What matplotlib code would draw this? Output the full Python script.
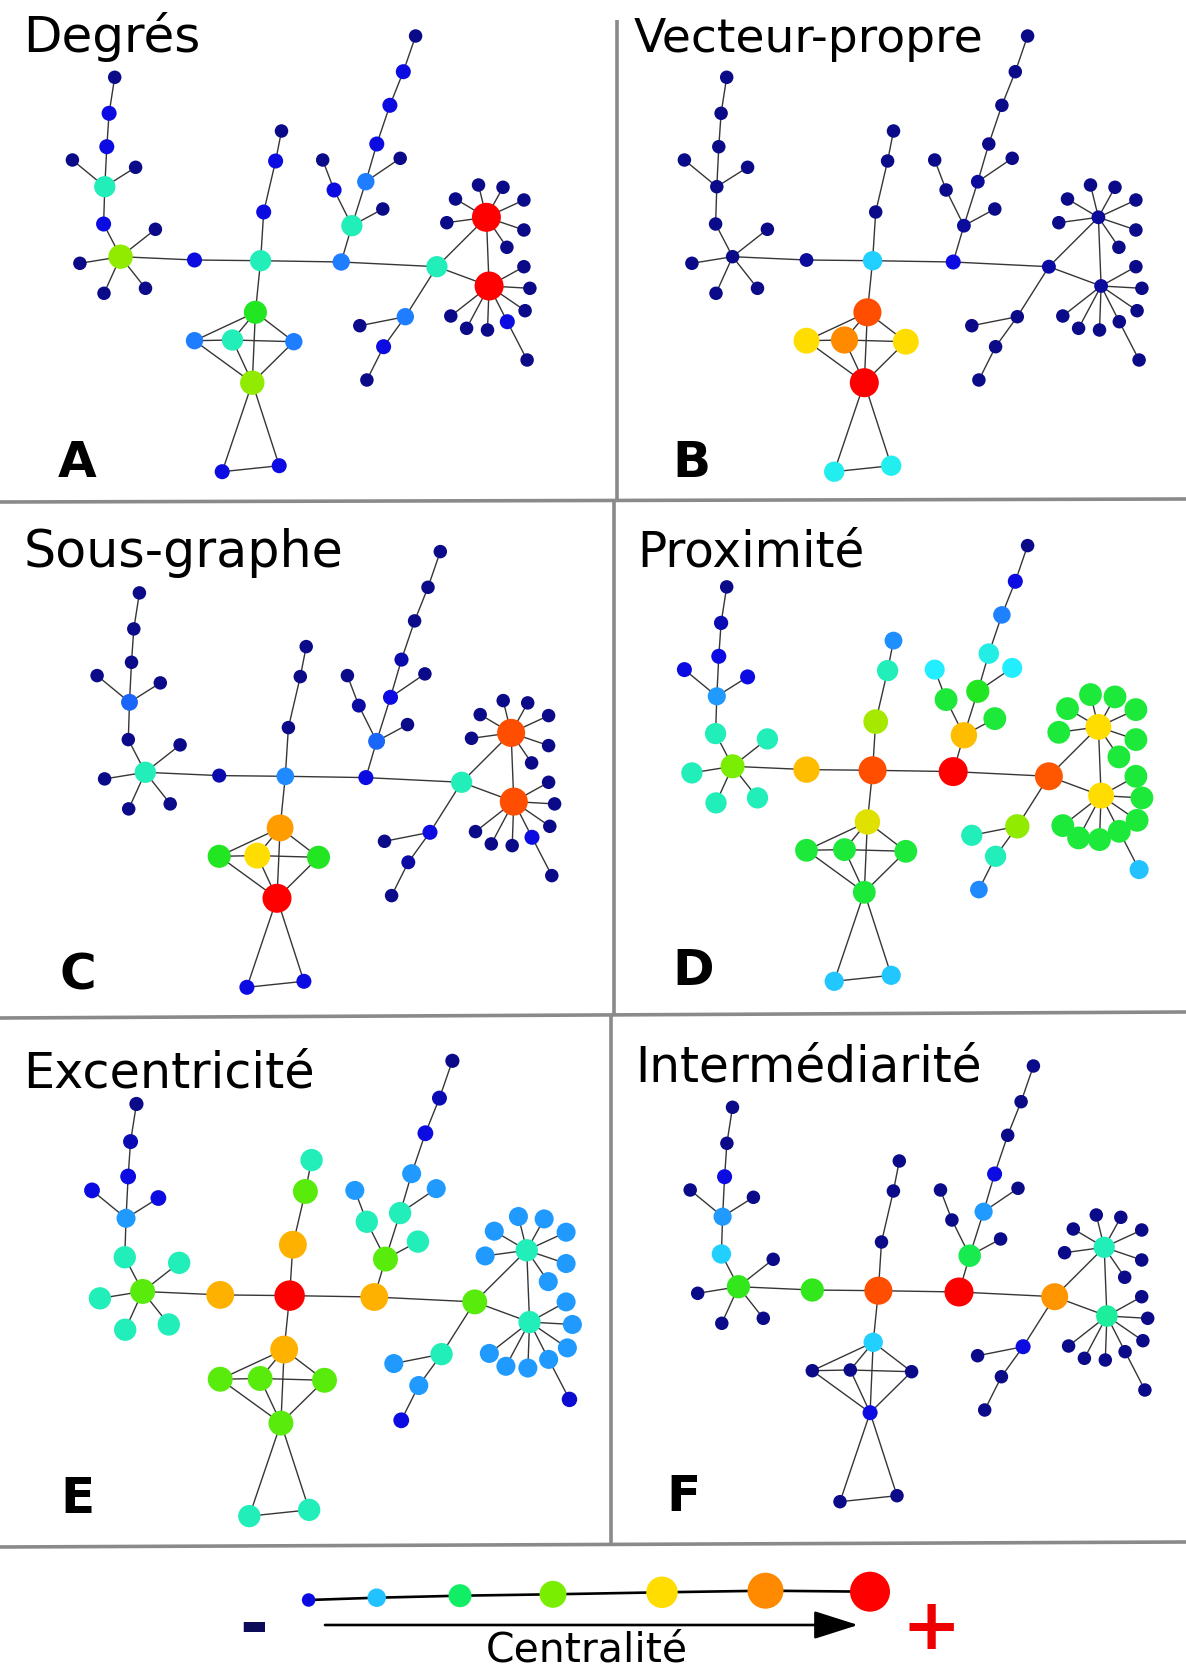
import numpy as np
import matplotlib
matplotlib.use("Agg")
import matplotlib.pyplot as plt
from matplotlib.colors import LinearSegmentedColormap
from matplotlib.collections import LineCollection
from matplotlib.patches import ArrowStyle

# ---------------- data ----------------
# graph layout (panel A frame, pixels)
node_x = [114.7, 109.1, 106.8, 104.8, 72.4, 135.6, 103.6, 120.6, 155.4, 79.9, 104.0, 145.5,
          194.5, 260.6, 263.7, 275.6, 281.5, 255.4, 194.5, 232.5, 293.8, 252.3, 222.2, 279.2,
          341.2, 351.9, 382.8, 334.1, 322.7, 365.8, 400.2, 376.8, 389.9, 403.3, 415.6,
          436.9, 405.3, 359.8, 383.6, 366.9,
          486.4, 455.5, 478.5, 503.0, 523.9, 446.8, 523.9, 506.9,
          489.1, 523.9, 529.9, 525.1, 507.3, 487.5, 466.6, 450.8, 527.1]
node_y = [77.3, 113.3, 146.7, 186.7, 160.0, 167.3, 224.0, 256.7, 229.3, 263.3, 293.3, 288.3,
          260.0, 260.7, 212.0, 161.0, 131.0, 312.3, 340.7, 340.0, 341.7, 382.7, 471.7, 465.7,
          262.0, 225.7, 209.0, 190.0, 160.0, 181.7, 158.3, 144.0, 105.3, 71.7, 36.0,
          266.7, 316.7, 325.7, 346.7, 380.0,
          217.3, 199.0, 185.0, 187.3, 200.0, 222.7, 230.0, 247.3,
          286.0, 266.7, 288.3, 310.7, 321.7, 330.0, 328.3, 316.0, 360.0]

edges = [(0, 1), (1, 2), (2, 3), (3, 4), (3, 5), (3, 6), (6, 7), (7, 8), (7, 9), (7, 10), (7, 11),
         (7, 12), (12, 13), (13, 14), (14, 15), (15, 16), (13, 17), (17, 18), (17, 19), (17, 20),
         (17, 21), (18, 19), (19, 20), (18, 21), (19, 21), (20, 21), (21, 22), (21, 23), (22, 23),
         (13, 24), (24, 25), (25, 26), (25, 27), (27, 28), (25, 29), (29, 30), (29, 31), (31, 32),
         (32, 33), (33, 34), (24, 35), (35, 36), (36, 37), (36, 38), (38, 39), (35, 40), (35, 48),
         (40, 48), (40, 41), (40, 42), (40, 43), (40, 44), (40, 45), (40, 46), (40, 47),
         (48, 49), (48, 50), (48, 51), (48, 52), (48, 53), (48, 54), (48, 55), (52, 56)]

titles = ["Degrés", "Vecteur-propre", "Sous-graphe", "Proximité", "Excentricité", "Intermédiarité"]
letters = ["A", "B", "C", "D", "E", "F"]

degree_vals = [0, .1, .1, .5, 0, 0, .1, .7, 0, 0, 0, 0,
               .1, .5, .1, .1, 0, .62, .25, .5, .25, .7, .1, .1,
               .25, .5, 0, .1, 0, .25, 0, .1, .1, .1, 0,
               .5, .25, 0, .1, 0,
               1, 0, 0, 0, 0, 0, 0, 0,
               1, 0, 0, 0, .1, 0, 0, 0, 0]
eigen_vals = [0, 0, 0, 0, 0, 0, 0, 0, 0, 0, 0, 0,
              .02, .38, 0, 0, 0, .94, .8, .88, .8, 1, .44, .44,
              .1, .02, 0, 0, 0, .02, 0, 0, 0, 0, 0,
              .03, 0, 0, 0, 0,
              .02, 0, 0, 0, 0, 0, 0, 0,
              .02, 0, 0, 0, 0, 0, 0, 0, 0]
subgraph_vals = [0, 0, 0, .22, 0, 0, 0, .5, 0, 0, 0, 0,
                 .04, .27, 0, 0, 0, .86, .62, .8, .62, 1, .1, .1,
                 .1, .22, 0, .03, 0, .1, 0, .04, 0, 0, 0,
                 .5, .1, 0, .03, 0,
                 .94, 0, 0, 0, 0, 0, 0, 0,
                 .94, 0, 0, 0, .1, 0, 0, 0, 0]
closeness_vals = [0, .05, .1, .3, .1, .1, .5, .68, .5, .5, .5, .5,
                  .83, .94, .72, .5, .28, .77, .6, .6, .6, .6, .37, .37,
                  1, .83, .6, .6, .42, .62, .42, .45, .26, .1, 0,
                  .93, .7, .5, .5, .27,
                  .8, .6, .6, .6, .6, .6, .6, .6,
                  .8, .6, .6, .6, .6, .6, .6, .6, .36]
eccentricity_vals = [0, .05, .1, .3, .1, .1, .5, .66, .5, .5, .5, .5,
                     .84, 1, .84, .66, .5, .84, .66, .66, .66, .66, .5, .5,
                     .84, .66, .5, .5, .3, .5, .3, .3, .1, .05, 0,
                     .66, .5, .3, .3, .1,
                     .5, .3, .3, .3, .3, .3, .3, .3,
                     .5, .3, .3, .3, .3, .3, .3, .3, .08]
betweenness_vals = [0, 0, .1, .3, 0, 0, .38, .63, 0, 0, 0, 0,
                    .63, .94, 0, 0, 0, .38, 0, 0, 0, .1, 0, 0,
                    1, .58, 0, 0, 0, .3, 0, .1, 0, 0, 0,
                    .87, .1, 0, 0, 0,
                    .5, 0, 0, 0, 0, 0, 0, 0,
                    .52, 0, 0, 0, 0, 0, 0, 0, 0]
panel_vals = [degree_vals, eigen_vals, subgraph_vals, closeness_vals, eccentricity_vals, betweenness_vals]

legend_levels = [0.1, 0.36, 0.56, 0.68, 0.8, 0.88, 1.0]

# ---------------- style / layout ----------------
cmap = LinearSegmentedColormap.from_list("centr", [
    (0.00, "#0b0b8a"), (0.10, "#0c0ce4"), (0.25, "#1e7dff"), (0.36, "#22c0ff"),
    (0.42, "#22eeff"), (0.50, "#22eebb"), (0.56, "#11ee66"), (0.62, "#22e622"),
    (0.68, "#77ee00"), (0.80, "#ffdd00"), (0.88, "#ff8c00"), (0.94, "#ff5000"),
    (1.00, "#ff0000")])

# panel transforms: (scale x, scale y, offset x, offset y)
panel_tf = [(1.0, 1.0, 0.0, 0.0), (1.0, 1.0, 612.0, 0.0),
            (1.0, 1.0, 24.7, 515.6), (1.0, 1.0, 612.0, 509.6),
            (1.05, 1.045, 16.0, 1023.2), (1.0, 1.0, 617.8, 1030.0)]
title_pos = [(23, 51.7, 36), (634, 51.7, 34), (23.5, 566.7, 36.5),
             (637, 566.7, 35), (23.5, 1087.5, 35.5), (635, 1081.6, 35)]
letter_pos = [(58, 476.7), (672, 476.7), (60, 990), (672, 985), (60, 1512.8), (666, 1511)]

W, H = 1186, 1671
fig = plt.figure(figsize=(W / 100, H / 100), dpi=100)
ax = fig.add_axes([0, 0, 1, 1])
ax.set_xlim(0, W)
ax.set_ylim(H, 0)
ax.axis("off")

PX = 0.72  # points per pixel

nx = np.array(node_x)
ny = np.array(node_y)
for k in range(6):
    sx, sy, ox, oy = panel_tf[k]
    X = nx * sx + ox
    Y = ny * sy + oy
    segs = [[(X[a], Y[a]), (X[b], Y[b])] for a, b in edges]
    ax.add_collection(LineCollection(segs, colors="#363636", linewidths=1.0, zorder=2))
    v = np.array(panel_vals[k], dtype=float)
    order = np.argsort(v, kind="stable")
    d = (13.5 + 15.5 * v) * sx
    ax.scatter(X[order], Y[order], s=(d[order] * PX) ** 2, c=v[order], cmap=cmap,
               vmin=0, vmax=1, linewidths=0, zorder=3)
    tx, ty, fs = title_pos[k]
    ax.text(tx, ty, titles[k], fontsize=fs, family="DejaVu Sans", ha="left", va="baseline",
            color="black", zorder=5)
    lx, ly = letter_pos[k]
    ax.text(lx, ly, letters[k], fontsize=36, family="DejaVu Sans", fontweight="bold",
            ha="left", va="baseline", color="black", zorder=5)

# frame lines
gray = "#8a8a8a"
lw = 2.6
ax.plot([0, W], [502, 499], color=gray, lw=lw, solid_capstyle="butt")
ax.plot([0, W], [1018, 1012], color=gray, lw=lw, solid_capstyle="butt")
ax.plot([0, W], [1547, 1542], color=gray, lw=lw, solid_capstyle="butt")
ax.plot([617, 617], [20, 500], color=gray, lw=lw, solid_capstyle="butt")
ax.plot([614, 614], [500, 1015], color=gray, lw=lw, solid_capstyle="butt")
ax.plot([611, 611], [1015, 1545], color=gray, lw=lw, solid_capstyle="butt")

# legend
leg_x = np.array([308.6, 376.7, 460, 553, 662, 765.5, 870])
leg_y = np.array([1600, 1597.7, 1595.7, 1594.3, 1592.3, 1590.7, 1591.7])
leg_d = np.array([13.5, 18.5, 23, 27, 31.5, 36, 40])
ax.plot(leg_x, leg_y, color="black", lw=1.9, zorder=2)
ax.scatter(leg_x, leg_y, s=(leg_d * PX) ** 2, c=legend_levels, cmap=cmap, vmin=0, vmax=1,
           linewidths=0, zorder=3)
ax.annotate("", xy=(858, 1625), xytext=(325, 1625),
            arrowprops=dict(arrowstyle=ArrowStyle("-|>", head_length=1.1, head_width=0.35),
                            mutation_scale=25, lw=1.9, color="black", shrinkA=0, shrinkB=0))
ax.text(254, 1647, "-", fontsize=50, fontweight="bold", family="DejaVu Sans",
        color="#0b0b5a", ha="center", va="baseline")
ax.text(931, 1649, "+", fontsize=51, fontweight="bold", family="DejaVu Sans",
        color="#ee0000", ha="center", va="baseline")
ax.text(587, 1661, "Centralité", fontsize=29.5, family="DejaVu Sans",
        color="black", ha="center", va="baseline")

fig.savefig("out.png", dpi=100)
